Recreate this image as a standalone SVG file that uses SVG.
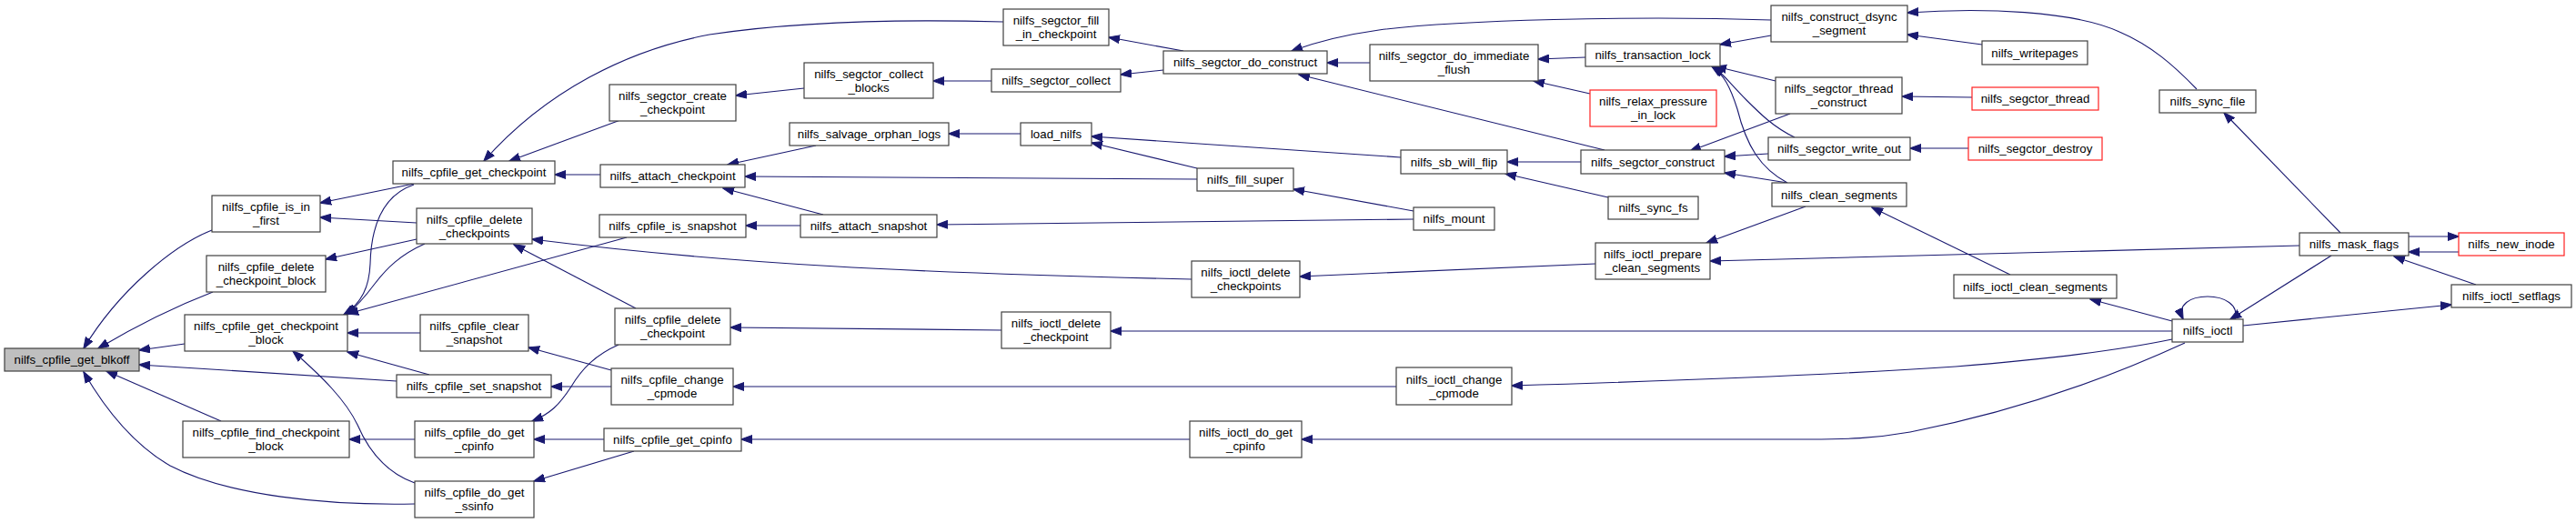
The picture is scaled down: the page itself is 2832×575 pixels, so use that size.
<svg xmlns="http://www.w3.org/2000/svg" width="2832" height="575" viewBox="0 0 2832 575">
<style>
.n rect{fill:#fff;stroke:#404040;stroke-width:1.2}
.n.r rect{stroke:#ff2020}
.n.g rect{fill:#bfbfbf}
text{font-family:"Liberation Sans",Arial,Helvetica,sans-serif;font-size:13.3px;fill:#000;text-anchor:middle}
.e path{fill:none;stroke:#191970;stroke-width:1.1;marker-end:url(#a)}
</style>
<defs>
<marker id="a" markerWidth="13" markerHeight="10" refX="12" refY="5" orient="auto" markerUnits="userSpaceOnUse">
<path d="M0,0.5 L12.5,5 L0,9.5 z" fill="#191970" stroke="#191970" stroke-width="1"/>
</marker>
</defs>
<rect width="2832" height="575" fill="#fff"/>
<g id="edges" class="e">
<path d="M233,253 C190,270 130,320 92,383"/>
<path d="M234,321 C190,338 150,358 108,383"/>
<path d="M203,378 L153,385"/>
<path d="M436,419 L153,401"/>
<path d="M243,463 L117,408"/>
<path d="M456,554 C360,556 250,545 187,512 C140,485 110,440 92,409"/>
<path d="M455,202 L352,223"/>
<path d="M458,245 L352,239"/>
<path d="M458,263 L358,285"/>
<path d="M455,203 C420,215 408,250 407,290 C406,315 398,333 378,346"/>
<path d="M467,268 C440,280 425,295 412,312 C400,328 392,337 381,346"/>
<path d="M689,261 L382,345"/>
<path d="M462,366 L382,366"/>
<path d="M472,412 L382,387"/>
<path d="M456,531 C425,520 405,495 393,467 C380,440 355,415 322,386"/>
<path d="M456,483 L384,483"/>
<path d="M1103,24 C1030,22 900,20 780,38 C690,55 600,100 532,177"/>
<path d="M682,132 L560,177"/>
<path d="M660,192 L610,192"/>
<path d="M884,97 L809,105"/>
<path d="M1090,89 L1026,89"/>
<path d="M1279,77 L1232,82"/>
<path d="M1301,56 L1219,41"/>
<path d="M897,160 L800,181"/>
<path d="M1316,197 L819,194"/>
<path d="M905,236 L795,207"/>
<path d="M1122,147 L1043,147"/>
<path d="M1540,173 L1200,150"/>
<path d="M1316,185 L1200,157"/>
<path d="M1554,232 L1422,208"/>
<path d="M1554,241 L1030,247"/>
<path d="M880,248 L820,248"/>
<path d="M1310,307 C1000,300 800,290 585,263"/>
<path d="M699,339 L565,269"/>
<path d="M1101,363 L803,360"/>
<path d="M672,407 L581,382"/>
<path d="M672,425 L606,425"/>
<path d="M680,379 C655,390 640,405 628,425 C615,445 605,455 585,463"/>
<path d="M664,483 L587,483"/>
<path d="M697,496 L587,529"/>
<path d="M1535,425 L806,425"/>
<path d="M1308,483 L815,483"/>
<path d="M1947,22 C1800,17 1600,22 1516,33 C1480,38 1450,45 1420,56"/>
<path d="M1506,69 L1459,69"/>
<path d="M1764,165 L1428,82"/>
<path d="M1743,63 L1691,65"/>
<path d="M1748,103 L1686,89"/>
<path d="M1947,39 L1891,49"/>
<path d="M1952,89 L1886,73"/>
<path d="M1973,151 C1950,140 1935,125 1920,110 C1905,95 1895,82 1884,73"/>
<path d="M1965,201 C1935,185 1920,160 1910,120 C1902,95 1895,82 1882,73"/>
<path d="M2179,49 L2097,38"/>
<path d="M2415,98 C2390,72 2365,50 2330,35 C2280,12 2180,8 2097,14"/>
<path d="M2168,107 L2091,106"/>
<path d="M1968,125 L1858,166"/>
<path d="M1944,169 L1896,172"/>
<path d="M1965,201 L1896,190"/>
<path d="M2164,163 L2100,163"/>
<path d="M1738,178 L1657,178"/>
<path d="M1768,217 L1655,191"/>
<path d="M1985,227 L1876,267"/>
<path d="M2210,302 L2058,228"/>
<path d="M2528,270 L1880,287"/>
<path d="M1754,290 L1429,304"/>
<path d="M2388,364 L1221,364"/>
<path d="M2388,373 C2330,385 2250,395 2150,403 C2000,413 1800,420 1662,424"/>
<path d="M2402,377 C2330,410 2230,450 2100,475 C2060,482 2030,483 1990,483 L1431,483"/>
<path d="M2388,353 L2298,329"/>
<path d="M2457,351 C2462,335 2445,326 2427,326 C2408,326 2393,335 2400,351"/>
<path d="M2563,281 L2452,351"/>
<path d="M2466,358 L2695,335"/>
<path d="M2722,313 L2632,282"/>
<path d="M2648,260 L2703,260"/>
<path d="M2703,277 L2648,277"/>
<path d="M2573,256 L2445,124"/>
</g>
<g id="n1" class="n g"><rect x="5" y="383" width="148" height="25"/><text x="79" y="400">nilfs_cpfile_get_blkoff</text></g>
<g id="n2" class="n"><rect x="233" y="215" width="119" height="40"/><text x="292.5" y="232">nilfs_cpfile_is_in</text><text x="292.5" y="247">_first</text></g>
<g id="n3" class="n"><rect x="227" y="281" width="131" height="40"/><text x="292.5" y="298">nilfs_cpfile_delete</text><text x="292.5" y="313">_checkpoint_block</text></g>
<g id="n4" class="n"><rect x="203" y="346" width="179" height="40"/><text x="292.5" y="363">nilfs_cpfile_get_checkpoint</text><text x="292.5" y="378">_block</text></g>
<g id="n5" class="n"><rect x="201" y="463" width="183" height="40"/><text x="292.5" y="480">nilfs_cpfile_find_checkpoint</text><text x="292.5" y="495">_block</text></g>
<g id="n6" class="n"><rect x="432" y="177" width="178" height="25"/><text x="521" y="194">nilfs_cpfile_get_checkpoint</text></g>
<g id="n7" class="n"><rect x="458" y="229" width="127" height="39"/><text x="521.5" y="245.5">nilfs_cpfile_delete</text><text x="521.5" y="260.5">_checkpoints</text></g>
<g id="n8" class="n"><rect x="462" y="346" width="119" height="40"/><text x="521.5" y="363">nilfs_cpfile_clear</text><text x="521.5" y="378">_snapshot</text></g>
<g id="n9" class="n"><rect x="436" y="412" width="170" height="25"/><text x="521" y="429">nilfs_cpfile_set_snapshot</text></g>
<g id="n10" class="n"><rect x="456" y="463" width="131" height="40"/><text x="521.5" y="480">nilfs_cpfile_do_get</text><text x="521.5" y="495">_cpinfo</text></g>
<g id="n11" class="n"><rect x="456" y="529" width="131" height="40"/><text x="521.5" y="546">nilfs_cpfile_do_get</text><text x="521.5" y="561">_ssinfo</text></g>
<g id="n12" class="n"><rect x="670" y="93" width="139" height="40"/><text x="739.5" y="110">nilfs_segctor_create</text><text x="739.5" y="125">_checkpoint</text></g>
<g id="n13" class="n"><rect x="660" y="181" width="159" height="25"/><text x="739.5" y="198">nilfs_attach_checkpoint</text></g>
<g id="n14" class="n"><rect x="659" y="236" width="161" height="25"/><text x="739.5" y="253">nilfs_cpfile_is_snapshot</text></g>
<g id="n15" class="n"><rect x="676" y="339" width="127" height="40"/><text x="739.5" y="356">nilfs_cpfile_delete</text><text x="739.5" y="371">_checkpoint</text></g>
<g id="n16" class="n"><rect x="672" y="405" width="134" height="40"/><text x="739" y="422">nilfs_cpfile_change</text><text x="739" y="437">_cpmode</text></g>
<g id="n17" class="n"><rect x="664" y="471" width="151" height="25"/><text x="739.5" y="488">nilfs_cpfile_get_cpinfo</text></g>
<g id="n18" class="n"><rect x="884" y="69" width="142" height="39"/><text x="955" y="85.5">nilfs_segctor_collect</text><text x="955" y="100.5">_blocks</text></g>
<g id="n19" class="n"><rect x="868" y="135" width="175" height="25"/><text x="955.5" y="152">nilfs_salvage_orphan_logs</text></g>
<g id="n20" class="n"><rect x="880" y="236" width="150" height="25"/><text x="955" y="253">nilfs_attach_snapshot</text></g>
<g id="n21" class="n"><rect x="1103" y="10" width="116" height="40"/><text x="1161" y="27">nilfs_segctor_fill</text><text x="1161" y="42">_in_checkpoint</text></g>
<g id="n22" class="n"><rect x="1090" y="76" width="142" height="25"/><text x="1161" y="93">nilfs_segctor_collect</text></g>
<g id="n23" class="n"><rect x="1122" y="135" width="78" height="25"/><text x="1161" y="152">load_nilfs</text></g>
<g id="n24" class="n"><rect x="1101" y="343" width="120" height="40"/><text x="1161" y="360">nilfs_ioctl_delete</text><text x="1161" y="375">_checkpoint</text></g>
<g id="n25" class="n"><rect x="1279" y="56" width="180" height="25"/><text x="1369" y="73">nilfs_segctor_do_construct</text></g>
<g id="n26" class="n"><rect x="1316" y="185" width="106" height="25"/><text x="1369" y="202">nilfs_fill_super</text></g>
<g id="n27" class="n"><rect x="1310" y="287" width="119" height="40"/><text x="1369.5" y="304">nilfs_ioctl_delete</text><text x="1369.5" y="319">_checkpoints</text></g>
<g id="n28" class="n"><rect x="1308" y="463" width="123" height="40"/><text x="1369.5" y="480">nilfs_ioctl_do_get</text><text x="1369.5" y="495">_cpinfo</text></g>
<g id="n29" class="n"><rect x="1506" y="49" width="185" height="40"/><text x="1598.5" y="66">nilfs_segctor_do_immediate</text><text x="1598.5" y="81">_flush</text></g>
<g id="n30" class="n"><rect x="1540" y="165" width="117" height="26"/><text x="1598.5" y="182.5">nilfs_sb_will_flip</text></g>
<g id="n31" class="n"><rect x="1554" y="228" width="89" height="25"/><text x="1598.5" y="245">nilfs_mount</text></g>
<g id="n32" class="n"><rect x="1535" y="404" width="127" height="41"/><text x="1598.5" y="421.5">nilfs_ioctl_change</text><text x="1598.5" y="436.5">_cpmode</text></g>
<g id="n33" class="n"><rect x="1743" y="48" width="148" height="25"/><text x="1817" y="65">nilfs_transaction_lock</text></g>
<g id="n34" class="n r"><rect x="1748" y="99" width="139" height="40"/><text x="1817.5" y="116">nilfs_relax_pressure</text><text x="1817.5" y="131">_in_lock</text></g>
<g id="n35" class="n"><rect x="1738" y="165" width="158" height="26"/><text x="1817" y="182.5">nilfs_segctor_construct</text></g>
<g id="n36" class="n"><rect x="1768" y="216" width="99" height="25"/><text x="1817.5" y="233">nilfs_sync_fs</text></g>
<g id="n37" class="n"><rect x="1754" y="267" width="126" height="40"/><text x="1817" y="284">nilfs_ioctl_prepare</text><text x="1817" y="299">_clean_segments</text></g>
<g id="n38" class="n"><rect x="1947" y="6" width="150" height="40"/><text x="2022" y="23">nilfs_construct_dsync</text><text x="2022" y="38">_segment</text></g>
<g id="n39" class="n"><rect x="1952" y="85" width="139" height="40"/><text x="2021.5" y="102">nilfs_segctor_thread</text><text x="2021.5" y="117">_construct</text></g>
<g id="n40" class="n"><rect x="1944" y="151" width="156" height="25"/><text x="2022" y="168">nilfs_segctor_write_out</text></g>
<g id="n41" class="n"><rect x="1948" y="201" width="148" height="26"/><text x="2022" y="218.5">nilfs_clean_segments</text></g>
<g id="n42" class="n"><rect x="2148" y="302" width="179" height="26"/><text x="2237.5" y="319.5">nilfs_ioctl_clean_segments</text></g>
<g id="n43" class="n"><rect x="2179" y="45" width="116" height="26"/><text x="2237" y="62.5">nilfs_writepages</text></g>
<g id="n44" class="n r"><rect x="2168" y="96" width="139" height="25"/><text x="2237.5" y="113">nilfs_segctor_thread</text></g>
<g id="n45" class="n r"><rect x="2164" y="151" width="147" height="25"/><text x="2237.5" y="168">nilfs_segctor_destroy</text></g>
<g id="n46" class="n"><rect x="2374" y="99" width="106" height="25"/><text x="2427" y="116">nilfs_sync_file</text></g>
<g id="n47" class="n"><rect x="2528" y="256" width="120" height="25"/><text x="2588" y="273">nilfs_mask_flags</text></g>
<g id="n48" class="n r"><rect x="2703" y="256" width="116" height="25"/><text x="2761" y="273">nilfs_new_inode</text></g>
<g id="n49" class="n"><rect x="2388" y="351" width="78" height="25"/><text x="2427" y="368">nilfs_ioctl</text></g>
<g id="n50" class="n"><rect x="2695" y="313" width="132" height="25"/><text x="2761" y="330">nilfs_ioctl_setflags</text></g>
</svg>
